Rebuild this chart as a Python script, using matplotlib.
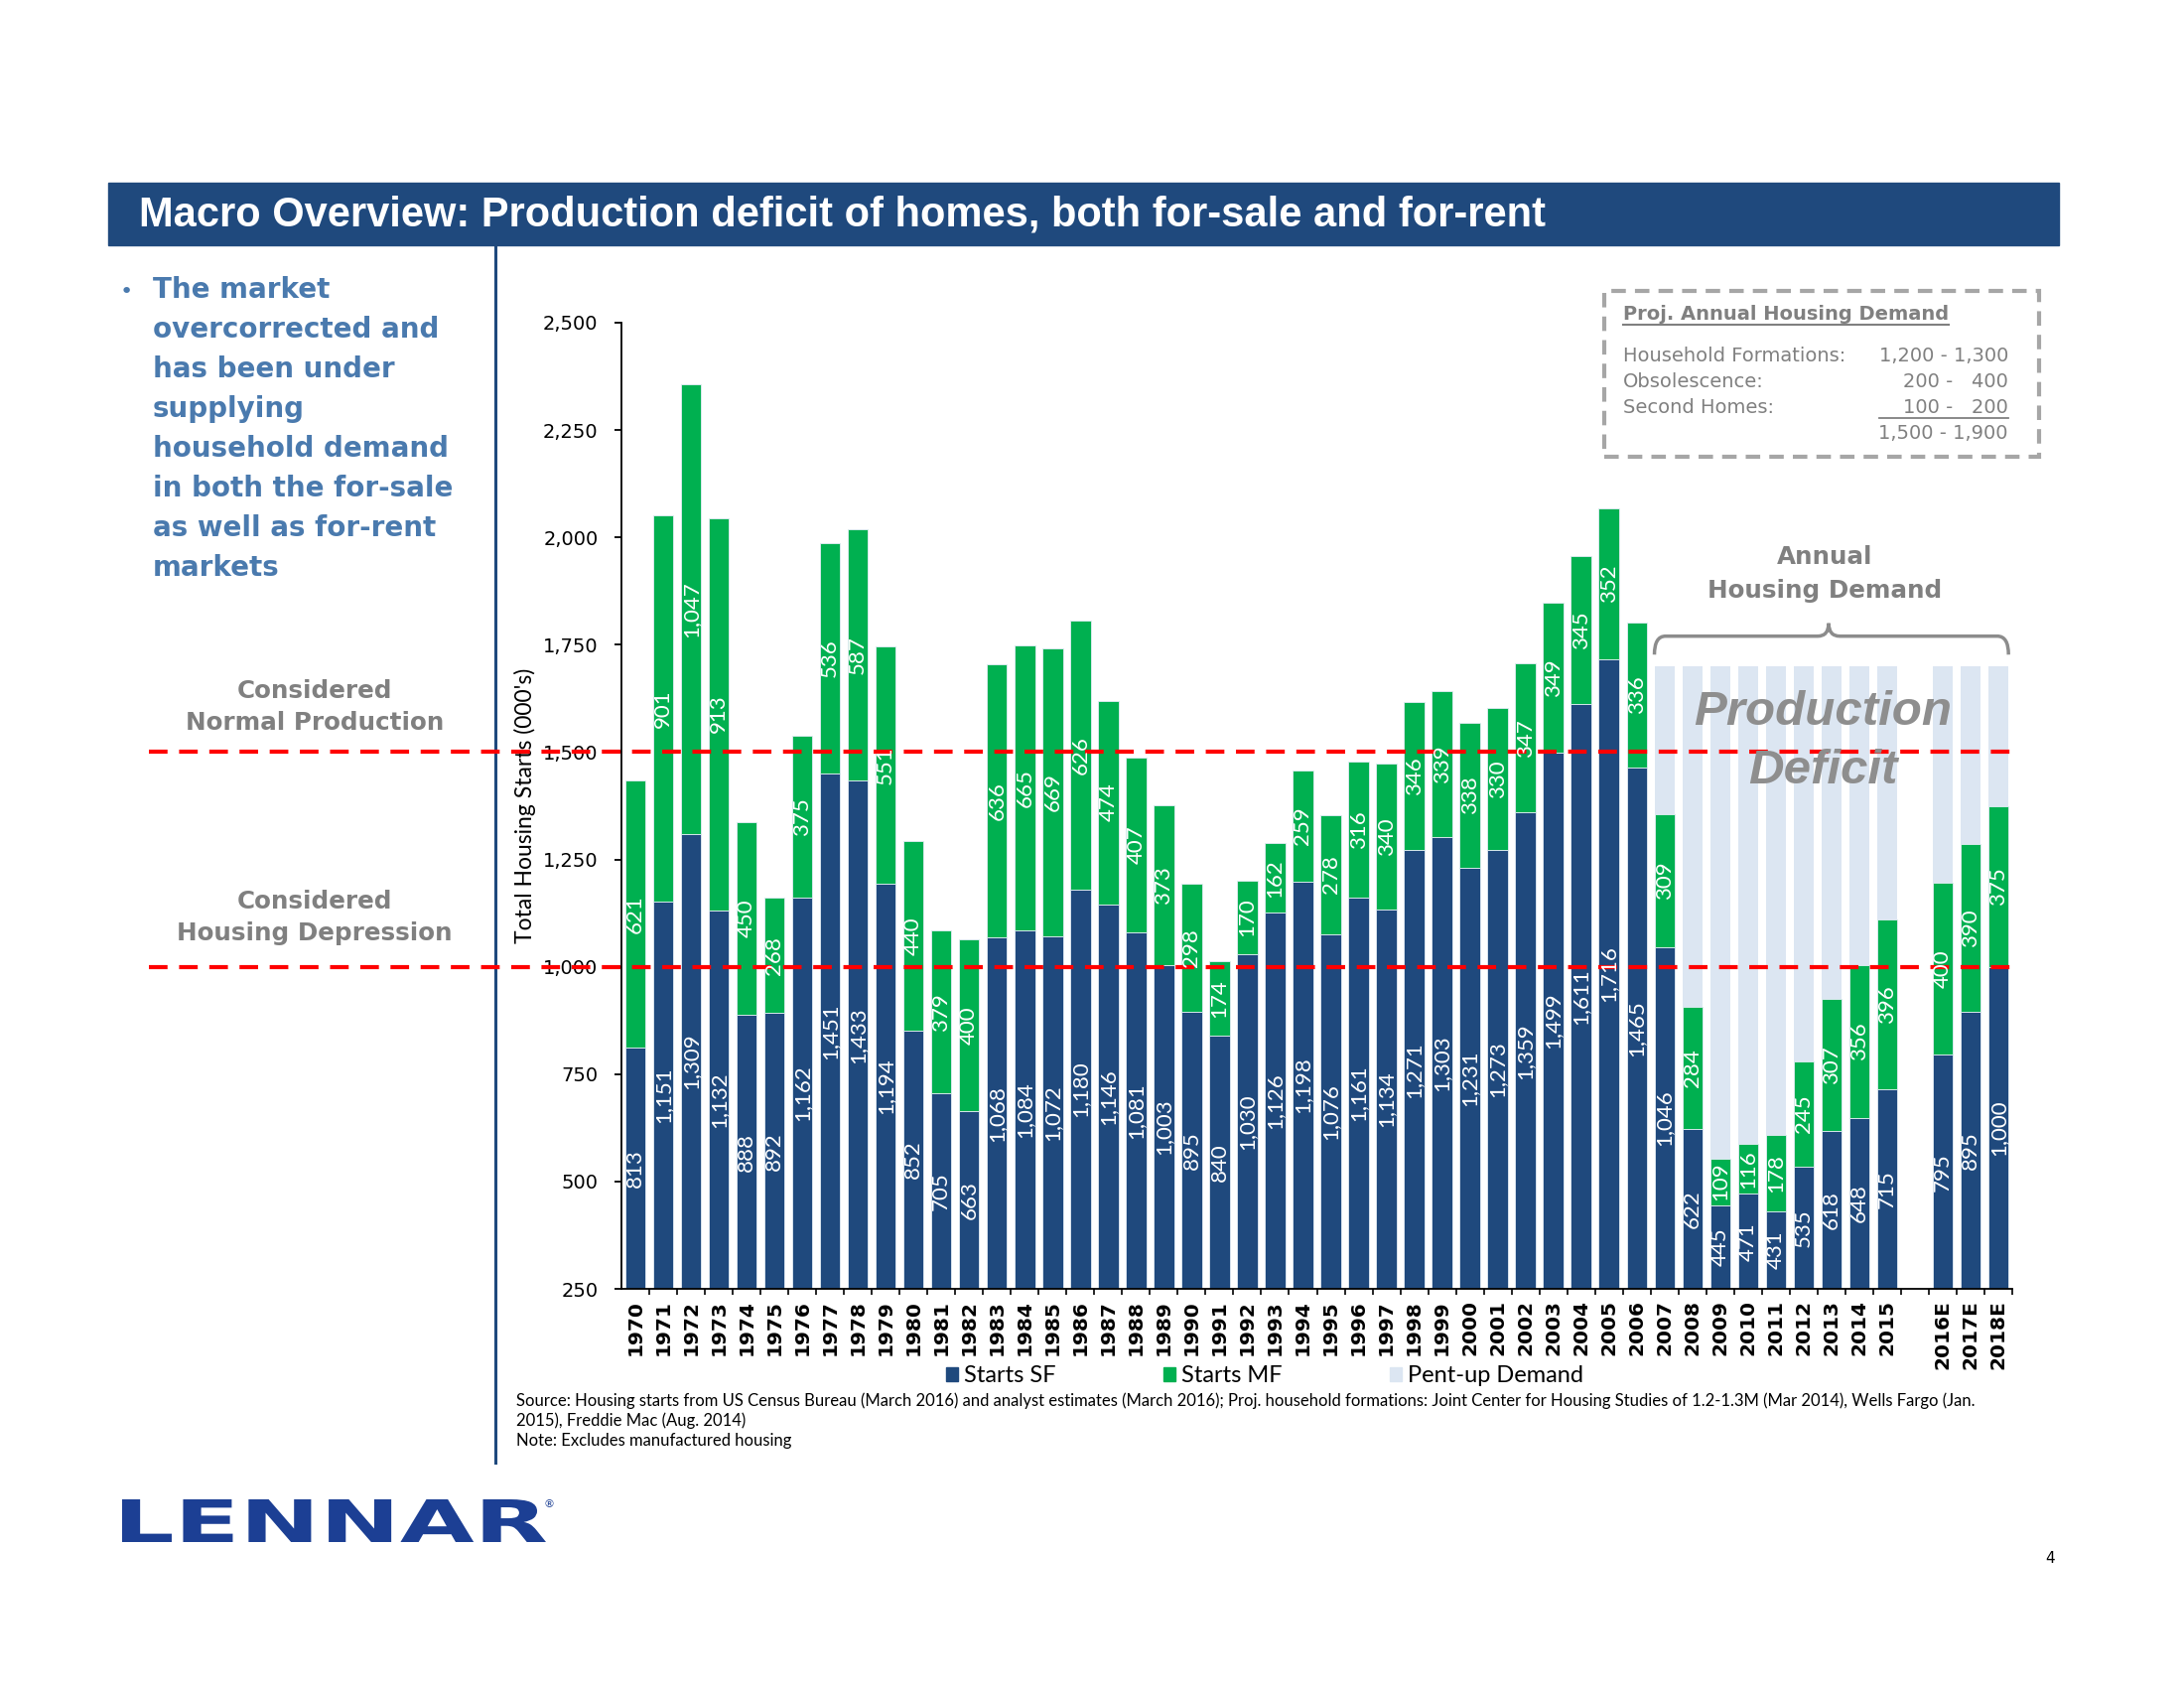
import numpy as np
import matplotlib
matplotlib.use("Agg")
import matplotlib.pyplot as plt
from matplotlib import font_manager
from matplotlib.patches import Rectangle, Patch, PathPatch
from matplotlib.path import Path
from matplotlib.textpath import TextPath
from matplotlib.font_manager import FontProperties
from matplotlib.transforms import Affine2D, blended_transform_factory
from matplotlib.lines import Line2D

# ----------------------------
# Data (000's of housing starts)
# ----------------------------
years = ["1970", "1971", "1972", "1973", "1974", "1975", "1976", "1977", "1978", "1979",
         "1980", "1981", "1982", "1983", "1984", "1985", "1986", "1987", "1988", "1989",
         "1990", "1991", "1992", "1993", "1994", "1995", "1996", "1997", "1998", "1999",
         "2000", "2001", "2002", "2003", "2004", "2005", "2006", "2007", "2008", "2009",
         "2010", "2011", "2012", "2013", "2014", "2015", "", "2016E", "2017E", "2018E"]

starts_sf = [813, 1151, 1309, 1132, 888, 892, 1162, 1451, 1433, 1194,
             852, 705, 663, 1068, 1084, 1072, 1180, 1146, 1081, 1003,
             895, 840, 1030, 1126, 1198, 1076, 1161, 1134, 1271, 1303,
             1231, 1273, 1359, 1499, 1611, 1716, 1465, 1046, 622, 445,
             471, 431, 535, 618, 648, 715, np.nan, 795, 895, 1000]

starts_mf = [621, 901, 1047, 913, 450, 268, 375, 536, 587, 551,
             440, 379, 400, 636, 665, 669, 626, 474, 407, 373,
             298, 174, 170, 162, 259, 278, 316, 340, 346, 339,
             338, 330, 347, 349, 345, 352, 336, 309, 284, 109,
             116, 178, 245, 307, 356, 396, np.nan, 400, 390, 375]

# gap up to the 1.7M annual demand line
pent_up = [np.nan] * 37 + [345, 794, 1146, 1113, 1091, 920, 775, 696, 589,
                           np.nan, 505, 415, 325]

normal_production = 1500
housing_depression = 1000

title = "Macro Overview: Production deficit of homes, both for-sale and for-rent"
bullet_lines = ["The market", "overcorrected and", "has been under", "supplying",
                "household demand", "in both the for-sale", "as well as for-rent", "markets"]
box_title = "Proj. Annual Housing Demand"
box_rows = ["Household Formations:", "Obsolescence:", "Second Homes:", ""]
box_values = ["1,200 - 1,300", "200 -   400", "100 -   200", "1,500 - 1,900"]
source_lines = [
    "Source: Housing starts from US Census Bureau (March 2016) and analyst estimates (March 2016); "
    "Proj. household formations: Joint Center for Housing Studies of 1.2-1.3M (Mar 2014), Wells Fargo (Jan.",
    "2015), Freddie Mac (Aug. 2014)",
    "Note: Excludes manufactured housing",
]

# ----------------------------
# Styles
# ----------------------------
NAVY = "#1F497D"
SF_C = "#1F497D"
MF_C = "#00B050"
PU_C = "#DCE6F2"
GRAY = "#808080"
RED = "#FF0000"
BLUE_TXT = "#4A7AAE"
LOGO = "#1C3F94"

names = {f.name for f in font_manager.fontManager.ttflist}
narrow = "Liberation Sans Narrow" in names

W, H = 2200, 1700


def fx(px):
    return px / W


def fy(py):
    return 1 - py / H


fig = plt.figure(figsize=(22, 17), dpi=100)
ax = fig.add_axes([fx(626), fy(1298), (2027 - 626) / W, (1298 - 325) / H])

x = np.arange(len(years))
sf = np.array(starts_sf, dtype=float)
mf = np.array(starts_mf, dtype=float)
pu = np.array(pent_up, dtype=float)
bw = 0.73

ax.bar(x, sf, width=bw, color=SF_C, edgecolor="#E4ECF5", linewidth=0.6, zorder=1)
ax.bar(x, mf, width=bw, bottom=sf, color=MF_C, edgecolor="#E4ECF5", linewidth=0.6, zorder=1)
ax.bar(x, pu, width=bw, bottom=sf + mf, color=PU_C, linewidth=0, zorder=1)

ymin, ymax = 250, 2500
ax.set_ylim(ymin, ymax)
ax.set_xlim(-0.5, len(years) - 0.5)

# value labels, centred in the visible part of each segment
for xi in x:
    for lo, hi, val in [(0, sf[xi], sf[xi]), (sf[xi], sf[xi] + mf[xi], mf[xi])]:
        if np.isnan(val):
            continue
        yc = (max(lo, ymin) + hi) / 2
        ax.text(xi, yc, f"{int(val):,}", rotation=90, ha="center", va="center",
                color="white", fontsize=16, family="Lato", zorder=4)

# axes styling
for s in ["top", "right"]:
    ax.spines[s].set_visible(False)
for s in ["left", "bottom"]:
    ax.spines[s].set_linewidth(1.3)
ax.set_yticks(np.arange(250, 2501, 250))
ax.set_yticklabels([f"{v:,}" for v in range(250, 2501, 250)])
ax.tick_params(axis="y", direction="out", length=5, width=1.3, pad=12, labelsize=14)
for lab in ax.get_yticklabels():
    lab.set_bbox(dict(facecolor="white", edgecolor="none", pad=1))
ax.set_xticks(x)
ax.set_xticklabels(years, rotation=90, fontsize=14.5, fontweight="bold")
ax.tick_params(axis="x", which="major", length=0, pad=8)
ax.set_xticks(np.arange(0.5, len(years), 1.0), minor=True)
ax.tick_params(axis="x", which="minor", direction="out", length=4, width=1.2)
ax.set_ylabel("Total Housing Starts (000's)", fontsize=16.5, family="Lato")
ax.yaxis.set_label_coords((540 - 626) / 1401, 0.5)

# red threshold lines reaching into the left column
trans = blended_transform_factory(ax.transAxes, ax.transData)
for lvl in [normal_production, housing_depression]:
    ax.plot([(150 - 626) / 1401, 1.0], [lvl, lvl], transform=trans, color=RED,
            lw=3.0, dashes=(4.5, 2.8), clip_on=False, zorder=3)

# divider between the text column and the chart
ax.plot([(499 - 626) / 1401] * 2, [(1298 - 247) / 973, (1298 - 1473) / 973],
        transform=ax.transAxes, color=NAVY, lw=2.2, clip_on=False, zorder=1.5)

# brace over the demand years
x0, x1 = 37 - bw / 2, len(years) - 1 + bw / 2
xm = 42.9
yb, yt, yp = 1727, 1770, 1800
verts = [(x0, yb), (x0, yt), (x0 + 0.4, yt), (xm - 0.4, yt), (xm, yt), (xm, yp),
         (xm, yt), (xm + 0.4, yt), (x1 - 0.4, yt), (x1, yt), (x1, yb)]
codes = [Path.MOVETO, Path.CURVE3, Path.CURVE3, Path.LINETO, Path.CURVE3, Path.CURVE3,
         Path.CURVE3, Path.CURVE3, Path.LINETO, Path.CURVE3, Path.CURVE3]
ax.add_patch(PathPatch(Path(verts, codes), fill=False, edgecolor="#8C8C8C", lw=2.5,
                       clip_on=False, zorder=3))

# legend
handles = [Patch(color=SF_C), Patch(color=MF_C), Patch(color=PU_C)]
ax.legend(handles, ["Starts SF", "Starts MF", "Pent-up Demand"], ncol=3, loc="center",
          bbox_to_anchor=(fx(1274), fy(1386)), bbox_transform=fig.transFigure,
          frameon=False, handlelength=0.5, handleheight=0.5, handletextpad=0.25,
          columnspacing=4.6, borderpad=0.1, prop=FontProperties(family="Lato", size=17))

# ----------------------------
# Slide decorations
# ----------------------------
fig.add_artist(Rectangle((fx(109), fy(247)), (2074 - 109) / W, (247 - 184) / H,
                         transform=fig.transFigure, color=NAVY, zorder=0))
if narrow:
    fig.text(fx(140), fy(216), title, color="white", fontsize=34, weight="bold",
             family="Liberation Sans Narrow", va="center", ha="left")
else:
    fig.text(fx(140), fy(216), title, color="white", fontsize=30, weight="bold",
             family="Liberation Sans", va="center", ha="left")

fig.text(fx(121), fy(300), "\u2022", color=BLUE_TXT, fontsize=16, va="baseline")
for i, line in enumerate(bullet_lines):
    fig.text(fx(154), fy(300 + 40 * i), line, color=BLUE_TXT, fontsize=20,
             weight="bold", va="baseline", ha="left")

for txt, py in [("Considered", 696), ("Normal Production", 728),
                ("Considered", 908), ("Housing Depression", 940),
                ("Annual", 561), ("Housing Demand", 595)]:
    px = 1838 if py < 600 else 317
    fig.text(fx(px), fy(py), txt, color=GRAY, fontsize=17.7, weight="bold",
             ha="center", va="center")

for txt, py in [("Production", 717), ("Deficit", 776)]:
    fig.text(fx(1836), fy(py), txt, color="#8E8E8E", fontsize=35.5, weight="bold",
             style="italic", family="Liberation Sans", ha="center", va="center", zorder=5)

# projected demand box
fig.add_artist(Rectangle((fx(1616), fy(460)), (2054 - 1616) / W, (460 - 293) / H,
                         transform=fig.transFigure, fill=False, edgecolor="#A6A6A6",
                         lw=3, linestyle=(0, (3.5, 2.2))))
t_title = fig.text(fx(1635), fy(317), box_title, color=GRAY, fontsize=14, weight="bold",
                   ha="left", va="center")
row_y = [358, 384, 411, 437]
val_texts = []
for lab, val, py in zip(box_rows, box_values, row_y):
    fig.text(fx(1635), fy(py), lab, color=GRAY, fontsize=14, ha="left", va="center")
    val_texts.append(fig.text(fx(2023), fy(py), val, color=GRAY, fontsize=14,
                              ha="right", va="center"))

fig.canvas.draw()
r = fig.canvas.get_renderer()
bb = t_title.get_window_extent(r)
fig.add_artist(Line2D([bb.x0 / W, bb.x1 / W], [fy(327)] * 2, color=GRAY, lw=1.5))
bb = val_texts[-1].get_window_extent(r)
fig.add_artist(Line2D([bb.x0 / W, bb.x1 / W], [fy(421)] * 2, color=GRAY, lw=1.3))

# source notes
for i, line in enumerate(source_lines):
    fig.text(fx(520), fy(1411 + 20 * i), line, fontsize=12, family="Lato",
             ha="left", va="center")

# logo, stretched wide
tp = TextPath((0, 0), "LENNAR", size=100,
              prop=FontProperties(family="DejaVu Sans", weight="bold"))
ext = tp.get_extents()
tr = (Affine2D().translate(-ext.x0, -ext.y0)
      .scale((550 - 123) / ext.width, (1553 - 1510) / ext.height)
      .translate(123, H - 1553).scale(1 / W, 1 / H))
fig.add_artist(PathPatch(tr.transform_path(tp), transform=fig.transFigure,
                         color=LOGO, lw=0))
fig.text(fx(553), fy(1515), "\u00ae", color=LOGO, fontsize=8, ha="center", va="center")

fig.text(fx(2065), fy(1570), "4", fontsize=11, ha="center", va="center")

fig.savefig("out.png", dpi=100)
